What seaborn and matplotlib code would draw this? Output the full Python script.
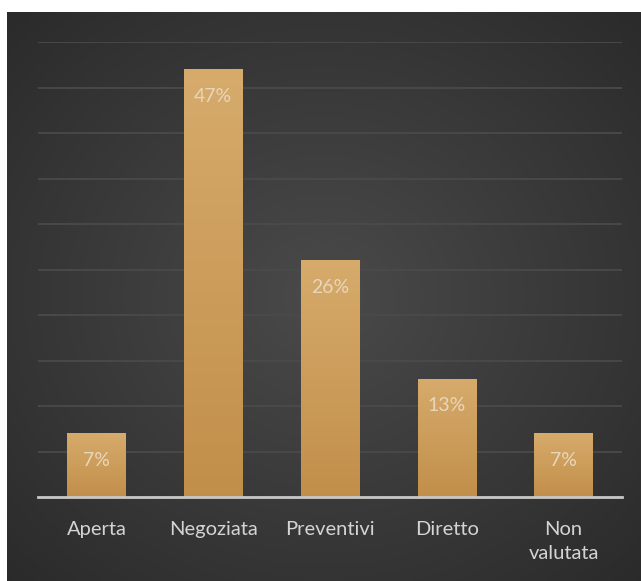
import numpy as np
import pandas as pd
import matplotlib
matplotlib.use("Agg")
import matplotlib.pyplot as plt
import seaborn as sns

categories = ["Aperta", "Negoziata", "Preventivi", "Diretto", "Non\nvalutata"]
percent = [7, 47, 26, 13, 7]

df = pd.DataFrame({"procedura": categories, "percentuale": percent})

sns.set_theme(style="dark")
plt.rcParams["font.family"] = ["Lato", "DejaVu Sans"]

W, H = 641, 581
fig = plt.figure(figsize=(W / 100, H / 100), dpi=100)
fig.patch.set_facecolor("white")

# dark panel with radial gradient
bg = fig.add_axes([7 / W, 0, 1 - 7 / W, 1 - 12 / H])
bg.set_axis_off()
yy, xx = np.mgrid[0:1:300j, 0:1:330j]
r = np.sqrt(((xx - 0.5) / 0.75) ** 2 + ((yy - 0.5) / 0.75) ** 2)
shade = np.clip(0.29 - 0.13 * r, 0.16, 0.29)
bg.imshow(np.dstack([shade, shade, shade]), aspect="auto", extent=[0, 1, 0, 1])

ax = fig.add_axes([38 / W, 1 - 497 / H, (622 - 38) / W, (497 - 42) / H])
ax.set_facecolor("none")
sns.barplot(data=df, x="procedura", y="percentuale", color="#c8985a",
            width=0.5, saturation=1, linewidth=0, ax=ax, zorder=3)

# vertical gradient inside each bar
grad = np.linspace(0, 1, 100).reshape(-1, 1)
top_c = np.array([0.84, 0.67, 0.42])
bot_c = np.array([0.76, 0.56, 0.29])
img = top_c * (1 - grad[..., None]) + bot_c * grad[..., None]
for p in ax.patches:
    x0, y0 = p.get_x(), p.get_y()
    im = ax.imshow(img, extent=[x0, x0 + p.get_width(), y0, y0 + p.get_height()],
                   aspect="auto", zorder=4)
    im.set_clip_path(p)

for p, v in zip(ax.patches, percent):
    ax.annotate(f"{v}%", (p.get_x() + p.get_width() / 2, p.get_height()),
                xytext=(0, -19.5), textcoords="offset points",
                ha="center", va="center", color="#e8d6bc", fontsize=14, zorder=5)

ax.set_xlim(-0.5, 4.5)
ax.set_ylim(0, 50)
ax.set_yticks(np.arange(5, 51, 5))
ax.yaxis.grid(True, color="#4a4a4a", linewidth=1.3, zorder=0)
ax.xaxis.grid(False)
ax.tick_params(axis="y", left=False, labelleft=False)
ax.tick_params(axis="x", bottom=False, colors="#d4d4d4", labelsize=14.5, pad=11)
ax.set_xticks(range(len(categories)))
ax.set_xticklabels(categories, linespacing=1.55)
ax.set_xlabel("")
ax.set_ylabel("")
for s in ["top", "left", "right"]:
    ax.spines[s].set_visible(False)
ax.spines["bottom"].set_color("#c8c8c8")
ax.spines["bottom"].set_linewidth(2)
ax.spines["bottom"].set_zorder(6)

fig.savefig("out.png", dpi=100)
